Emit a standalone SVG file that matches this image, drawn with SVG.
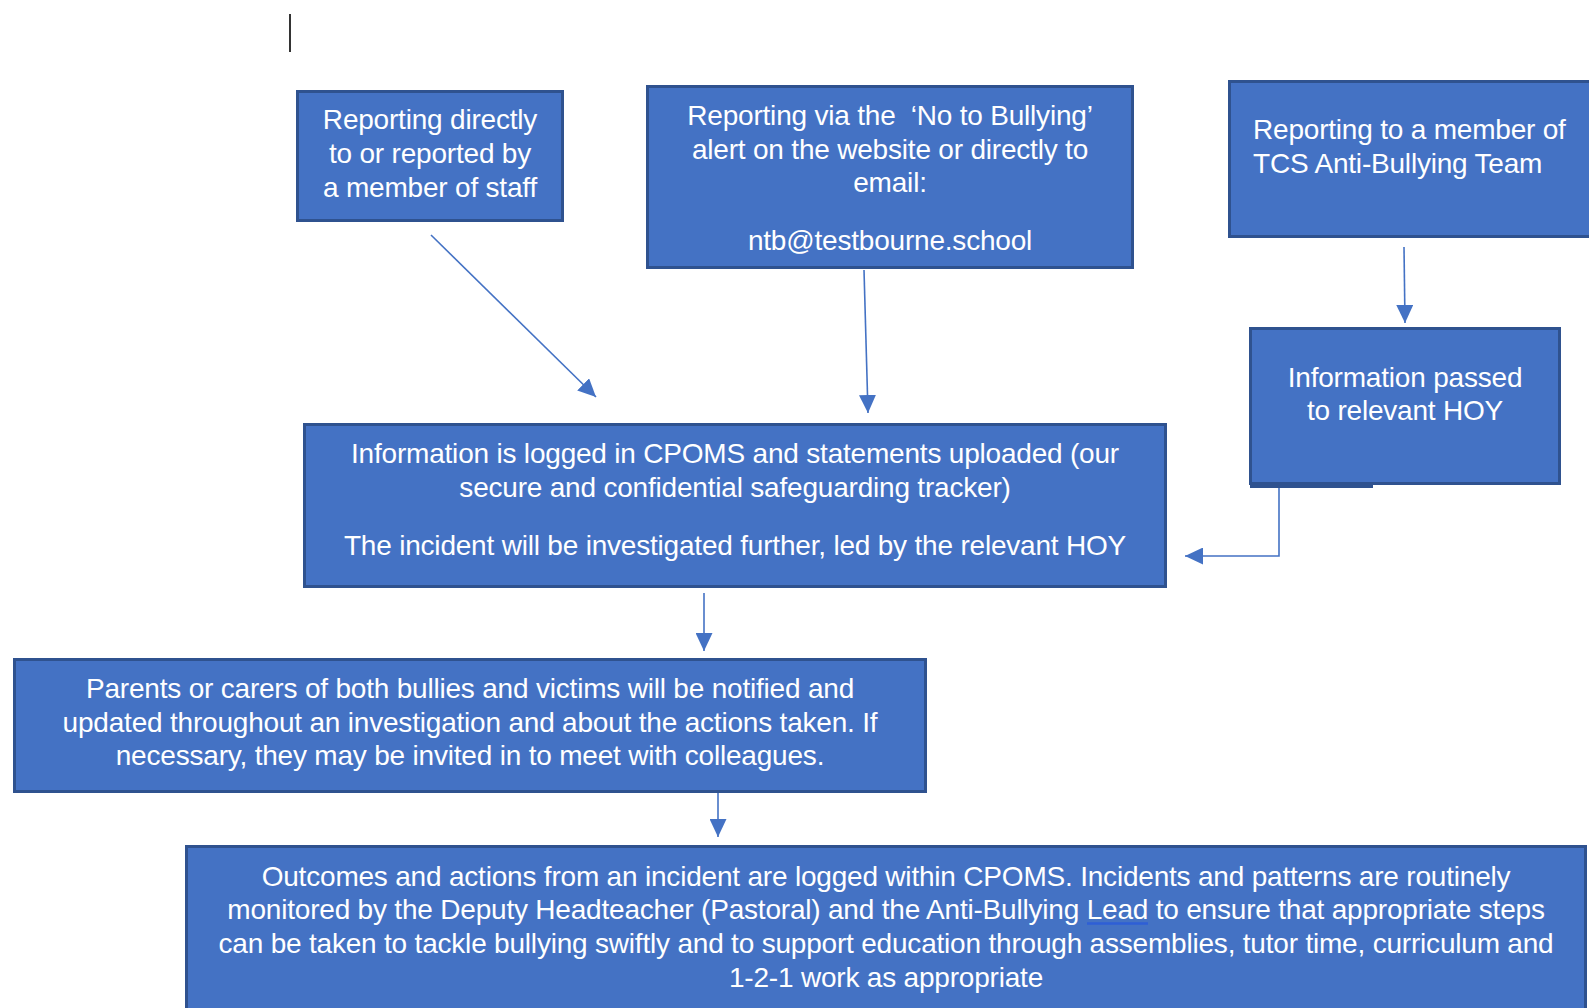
<svg xmlns="http://www.w3.org/2000/svg" width="1589" height="1008" viewBox="0 0 1589 1008">
  <style>
    .box { fill: #4472C4; stroke: #2F528F; stroke-width: 3; }
    .t { font-family: "Liberation Sans", Arial, sans-serif; font-size: 28px; letter-spacing: -0.2px; fill: #FFFFFF; }
    .c { text-anchor: middle; }
    .conn { fill: none; stroke: #4472C4; stroke-width: 1.6; }
  </style>
  <defs>
    <marker id="arr" viewBox="0 0 18 17" refX="18" refY="8.5" markerWidth="18" markerHeight="17" markerUnits="userSpaceOnUse" orient="auto">
      <path d="M0,0 L18,8.5 L0,17 Z" fill="#4472C4"/>
    </marker>
  </defs>
  <rect width="1589" height="1008" fill="#FFFFFF"/>
  <line x1="290" y1="14" x2="290" y2="52" stroke="#000000" stroke-width="1.6"/>

  <g id="connectors">
    <line class="conn" x1="431" y1="235" x2="596" y2="397" marker-end="url(#arr)"/>
    <line class="conn" x1="864" y1="270" x2="868" y2="413" marker-end="url(#arr)"/>
    <line class="conn" x1="1404" y1="247" x2="1405" y2="323" marker-end="url(#arr)"/>
    <path class="conn" d="M1279,485 V556 H1185" marker-end="url(#arr)"/>
    <line class="conn" x1="704" y1="593" x2="704" y2="651" marker-end="url(#arr)"/>
    <line class="conn" x1="718" y1="793" x2="718" y2="837" marker-end="url(#arr)"/>
  </g>

  <g id="node-staff">
    <rect class="box" x="297.5" y="91.5" width="265" height="129"/>
    <text class="t c" x="430" y="129">Reporting directly</text>
    <text class="t c" x="430" y="163">to or reported by</text>
    <text class="t c" x="430" y="197">a member of staff</text>
  </g>

  <g id="node-website">
    <rect class="box" x="647.5" y="86.5" width="485" height="181"/>
    <text class="t c" x="890" y="125" xml:space="preserve">Reporting via the  ‘No to Bullying’</text>
    <text class="t c" x="890" y="159">alert on the website or directly to</text>
    <text class="t c" x="890" y="192">email:</text>
    <text class="t c" x="890" y="250">ntb@testbourne.school</text>
  </g>

  <g id="node-team">
    <rect class="box" x="1229.5" y="81.5" width="380" height="155"/>
    <text class="t" x="1253" y="139">Reporting to a member of</text>
    <text class="t" x="1253" y="173">TCS Anti-Bullying Team</text>
  </g>

  <g id="node-hoy">
    <rect class="box" x="1250.5" y="328.5" width="309" height="155"/>
    <rect x="1250" y="484" width="123" height="4" fill="#2F528F"/>
    <text class="t c" x="1405" y="387">Information passed</text>
    <text class="t c" x="1405" y="420">to relevant HOY</text>
  </g>

  <g id="node-cpoms">
    <rect class="box" x="304.5" y="424.5" width="861" height="162"/>
    <text class="t c" x="735" y="463">Information is logged in CPOMS and statements uploaded (our</text>
    <text class="t c" x="735" y="497">secure and confidential safeguarding tracker)</text>
    <text class="t c" x="735" y="555">The incident will be investigated further, led by the relevant HOY</text>
  </g>

  <g id="node-parents">
    <rect class="box" x="14.5" y="659.5" width="911" height="132"/>
    <text class="t c" x="470" y="698">Parents or carers of both bullies and victims will be notified and</text>
    <text class="t c" x="470" y="732">updated throughout an investigation and about the actions taken. If</text>
    <text class="t c" x="470" y="765">necessary, they may be invited in to meet with colleagues.</text>
  </g>

  <g id="node-outcomes">
    <rect class="box" x="186.5" y="846.5" width="1399" height="175"/>
    <text class="t c" x="886" y="886">Outcomes and actions from an incident are logged within CPOMS. Incidents and patterns are routinely</text>
    <text class="t c" x="886" y="919">monitored by the Deputy Headteacher (Pastoral) and the Anti-Bullying Lead to ensure that appropriate steps</text>
    <text class="t c" x="886" y="953">can be taken to tackle bullying swiftly and to support education through assemblies, tutor time, curriculum and</text>
    <text class="t c" x="886" y="987">1-2-1 work as appropriate</text>
    <line x1="1087" y1="923.5" x2="1148" y2="923.5" stroke="#2E5FD6" stroke-width="2.5"/>
  </g>
</svg>
